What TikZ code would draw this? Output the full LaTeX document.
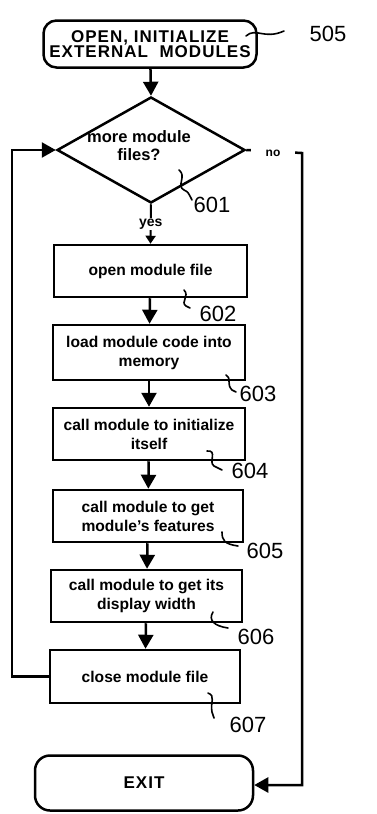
\documentclass[tikz,border=0pt]{standalone}
\usepackage{fontspec}
\setmainfont{Liberation Sans}
\usetikzlibrary{shapes.geometric,arrows.meta}
\begin{document}
\begin{tikzpicture}[x=1pt,y=-1pt,
  box/.style={draw, line width=2.5pt, inner sep=0pt, align=center, font=\bfseries\fontsize{15.6}{19}\selectfont},
  term/.style={box, rounded corners=13pt, font=\bfseries\fontsize{17}{15.5}\selectfont\addfontfeature{LetterSpace=6}},
  arr/.style={line width=2.5pt, -{Triangle[width=15pt,length=14pt]}},
  hand/.style={font=\fontsize{22}{22}\selectfont, inner sep=0pt},
  lead/.style={line width=1.6pt, line cap=round}]
\useasboundingbox (0,0) rectangle (376,814);

\node[term, minimum width=213pt, minimum height=47pt] (start) at (150,44) {OPEN, INITIALIZE\\EXTERNAL\ \ MODULES};
\node[draw, diamond, line width=2.5pt, inner sep=0pt, aspect=1.75, minimum width=188pt, minimum height=106pt] (dec) at (151,150) {};
\node[align=center, inner sep=0pt, font=\bfseries\fontsize{16.5}{18}\selectfont] (dectext) at (139,146) {more module\\files?};
\node[box, minimum width=193pt, minimum height=52pt] (b602) at (150.5,271) {open module file};
\node[box, minimum width=192pt, minimum height=55pt] (b603) at (149,352.5) {load module code into\\memory};
\node[box, minimum width=192pt, minimum height=52pt] (b604) at (149,434) {call module to initialize\\itself};
\node[box, minimum width=190pt, minimum height=52pt] (b605) at (148,516) {call module to get\\module's features};
\node[box, minimum width=191pt, minimum height=52pt] (b606) at (146.5,596) {call module to get its\\display width};
\node[box, minimum width=190pt, minimum height=53pt] (b607) at (145,676.5) {close module file};
\node[term, minimum width=218pt, minimum height=55pt, rounded corners=15pt] (exit) at (144,783) {EXIT};

\draw[arr] (start) -- (dec.north);
\draw[line width=2pt, -{Triangle[width=10pt,length=8pt]}] (dec.south) -- (b602.north)
  node[pos=0.5, fill=white, inner sep=1pt, font=\bfseries\fontsize{14}{14}\selectfont] (yes) {yes};
\draw[arr] (b602) -- (b603);
\draw[arr] (b603) -- (b604);
\draw[arr] (b604) -- (b605);
\draw[arr] (b605) -- (b606);
\draw[arr] (b606) -- (b607);
\coordinate (lc1) at (12,676.5);
\coordinate (lc2) at (12,150);
\draw[arr] (b607.west) -- (lc1) -- (lc2) -- (dec.west);
\coordinate (nc1) at (302,153);
\coordinate (nc2) at (302,785);
\draw[arr] (dec.east) -- (nc1) -- (nc2) -- (exit.east |- nc2);
\node[fill=white, minimum width=44pt, minimum height=10pt, inner sep=0pt, font=\bfseries\fontsize{12}{12}\selectfont] (no) at (273,153) {no};

% reference numerals
\node[hand] (n505) at (328,34) {505};
\draw[lead] (246,36) .. controls (256,27) and (264,40) .. (284,31);
\node[hand] (n601) at (212,205) {601};
\draw[lead] (179,170) .. controls (187,176) and (176,186) .. (184,190) .. controls (188,192) .. (192,200);
\node[hand] (n602) at (218,314) {602};
\draw[lead] (184,290) .. controls (190,296) and (180,302) .. (186,306) -- (190,308);
\node[hand] (n603) at (258,394) {603};
\draw[lead] (226,375) .. controls (232,378) and (226,384) .. (232,390) -- (236,392);
\node[hand] (n604) at (250,471) {604};
\draw[lead] (207,451) .. controls (218,450) and (208,462) .. (214,466) -- (222,470);
\node[hand] (n605) at (265,551) {605};
\draw[lead] (222,532) .. controls (222,540) and (224,544) .. (238,546);
\node[hand] (n606) at (256,637) {606};
\draw[lead] (213,612) .. controls (208,620) and (214,626) .. (228,628);
\node[hand] (n607) at (248,725) {607};
\draw[lead] (208,693) .. controls (216,696) and (210,702) .. (212,712) -- (214,718);
\end{tikzpicture}
\end{document}
